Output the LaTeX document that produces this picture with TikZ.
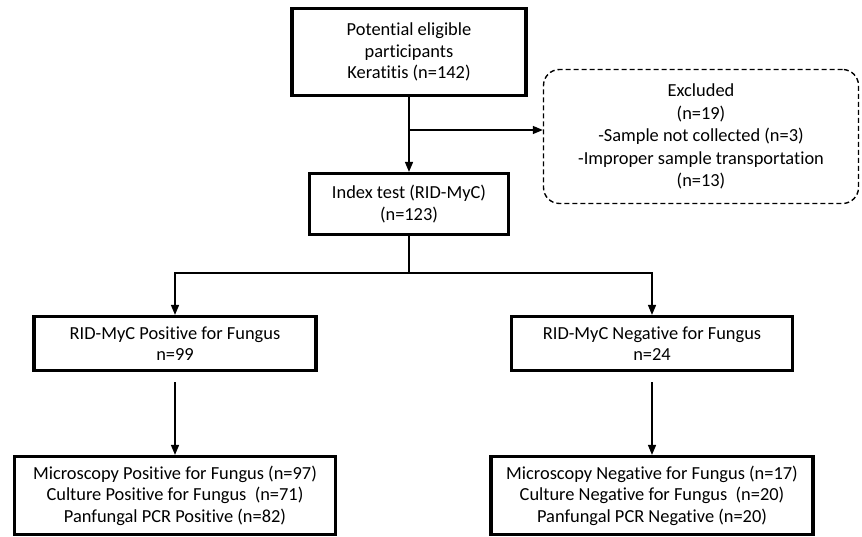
\documentclass[tikz,border=0pt]{standalone}
\usepackage{fontspec}
\setmainfont{Carlito}[Ligatures={NoCommon}]
\usetikzlibrary{arrows.meta}
\begin{document}
\begin{tikzpicture}[x=1pt,y=-1pt,
  box/.style={draw, line width=3.2pt, align=center, inner sep=0pt, font=\fontsize{18.4}{21.5}\selectfont},
  dbox/.style={draw, dashed, dash pattern=on 5pt off 3pt, line width=1.4pt, rounded corners=16pt, align=center, inner sep=0pt, font=\fontsize{18.4}{22.5}\selectfont},
  arr/.style={line width=1.5pt, -{Triangle[length=10pt,width=8pt]}},
  ln/.style={line width=1.5pt}]
\useasboundingbox (0,0) rectangle (862,537);
\node[box, minimum width=234pt, minimum height=87pt] (top) at (409,52) {Potential eligible\\participants\\Keratitis (n=142)};
\node[dbox, minimum width=315pt, minimum height=134pt] (exc) at (701,136.5) {Excluded\\(n=19)\\-Sample not collected (n=3)\\-Improper sample transportation\\(n=13)};
\node[box, minimum width=199pt, minimum height=61pt] (idx) at (409,204) {Index test (RID-MyC)\\(n=123)};
\node[box, minimum width=282pt, minimum height=54pt] (pos) at (175,343.5) {RID-MyC Positive for Fungus\\n=99};
\node[box, minimum width=281pt, minimum height=54pt] (neg) at (652,343.5) {RID-MyC Negative for Fungus\\n=24};
\node[box, minimum width=321pt, minimum height=78pt] (pres) at (175,495.5) {Microscopy Positive for Fungus (n=97)\\Culture Positive for Fungus~ (n=71)\\Panfungal PCR Positive (n=82)};
\node[box, minimum width=322pt, minimum height=78pt] (nres) at (652,495.5) {Microscopy Negative for Fungus (n=17)\\Culture Negative for Fungus~ (n=20)\\Panfungal PCR Negative (n=20)};
\coordinate (br) at (409,130);
\coordinate (split) at (409,273);
\draw[arr] (top.south) -- (idx.north);
\draw[arr] (br) -- (br -| exc.west);
\draw[ln] (idx.south) -- (split);
\draw[arr] (split) -| (pos.north);
\draw[arr] (split) -| (neg.north);
\draw[arr] ([yshift=-10pt]pos.south) -- (pres.north);
\draw[arr] ([yshift=-10pt]neg.south) -- (nres.north);
\end{tikzpicture}
\end{document}
